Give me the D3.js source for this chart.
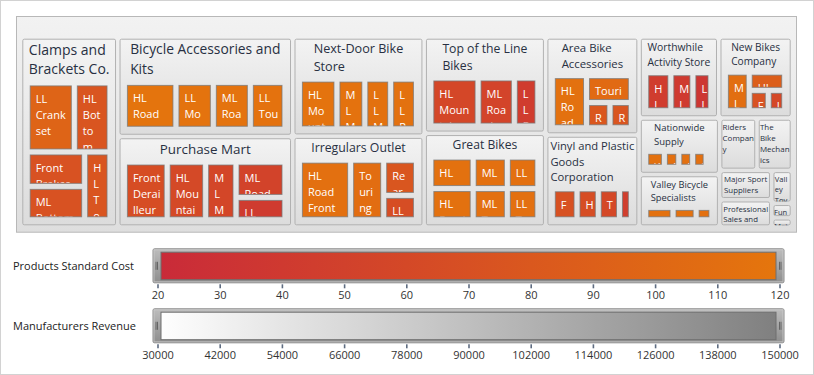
<!DOCTYPE html>
<html>
<head>
<meta charset="utf-8">
<script src="https://cdn.jsdelivr.net/npm/d3@7"></script>
<style>
  html, body { margin: 0; padding: 0; background: #fff; }
  svg { display: block; font-family: "Open Sans", sans-serif; }
</style>
</head>
<body>
<div id="chart"></div>
<script>
// manufacturers, largest first (tile size)
var manufacturers = [
  "Clamps and Brackets Co.", "Bicycle Accessories and Kits", "Purchase Mart",
  "Next-Door Bike Store", "Irregulars Outlet", "Top of the Line Bikes", "Great Bikes",
  "Area Bike Accessories", "Vinyl and Plastic Goods Corporation", "Worthwhile Activity Store",
  "New Bikes Company", "Nationwide Supply", "Valley Bicycle Specialists", "Riders Company",
  "The Bike Mechanics", "Major Sport Suppliers", "Professional Sales and Service",
  "Valley Toy Store", "Fun Toys and Bikes", "Metro Sports Equipment"
];
var manufacturerValues = [18392, 17333, 15765, 12972, 11886, 11647, 11332, 9116, 8555, 6424,
  5943, 4531, 4211, 1947, 1849, 1521, 1415, 679, 300, 190];

// products of each manufacturer (same order as above)
var productNames = [
  ["LL Crankset", "HL Bottom Bracket", "Front Brakes", "ML Bottom Bracket", "HL Touring Handlebars"],
  ["HL Road Front Wheel", "LL Mountain Front Wheel", "ML Road Front Wheel", "LL Touring Rear Wheel"],
  ["Front Derailleur", "HL Mountain Pedal", "ML Mountain Pedal", "ML Road Pedal", "LL Road Pedal"],
  ["HL Mountain Rear Wheel", "ML Mountain Rear Wheel", "LL Mountain Rear Wheel", "LL Road Rear Wheel"],
  ["HL Road Front Wheel", "Touring Front Wheel", "Rear Derailleur", "LL Road Seat"],
  ["HL Mountain Frame", "ML Road Frame", "LL Road Frame"],
  ["HL Mountain Seat", "HL Road Seat", "ML Road Seat", "ML Touring Seat", "LL Road Seat", "LL Touring Seat"],
  ["HL Road Handlebars", "Touring Pedal", "Road Bottle Cage", "Rear Brakes"],
  ["Fender Set - Mountain", "HL Headset", "Taillights - Battery", "LL Headset"],
  ["HL Touring Seat", "ML Touring Seat", "LL Touring Seat"],
  ["ML Crankset", "HL Crankset", "Front Derailleur", "LL Crankset"],
  ["Water Bottle", "Bike Wash", "Road Bottle Cage", "Mountain Bottle Cage", "Patch Kit"],
  ["Sport-100 Helmet", "Hydration Pack", "Cable Lock"],
  ["Mountain Pump", "Minipump"],
  ["Chain", "Hitch Rack"],
  ["Headlights - Dual-Beam"],
  ["Headlights - Weatherproof"],
  ["Taillights"],
  ["Bike Stand"],
  ["All-Purpose Bike Stand"]
];
var productValues = [
  [3300, 2500, 2006, 1948, 1746],
  [2366, 1717, 1700, 1592],
  [2478, 2228, 1760, 1740, 1100],
  [1802, 1338, 1241, 1236],
  [2993, 1931, 1131, 782],
  [2223, 1706, 1109],
  [1300, 1290, 1050, 1040, 940, 930],
  [1763, 1193, 585, 533],
  [732, 630, 627, 351],
  [947, 832, 683],
  [912, 641, 386, 332],
  [272, 210, 202, 196, 84],
  [324, 274, 187],
  [500, 400],
  [500, 400],
  [300],
  [300],
  [100],
  [100],
  [100]
];
var productCosts = [
  [96, 76, 72, 72, 76],
  [117, 116, 116, 115],
  [66, 61, 57, 53, 42],
  [116, 115, 114, 114],
  [112, 108, 78, 66],
  [58, 54, 44],
  [113, 113, 112, 112, 112, 112],
  [114, 104, 79, 76],
  [71, 66, 60, 46],
  [44, 41, 36],
  [110, 88, 72, 60],
  [113, 112, 112, 112, 100],
  [113, 113, 112],
  [90, 70],
  [80, 60],
  [60],
  [50],
  [80],
  [100],
  [90]
];

var costTicks = [20, 30, 40, 50, 60, 70, 80, 90, 100, 110, 120];
var revenueTicks = [30000, 42000, 54000, 66000, 78000, 90000, 102000, 114000, 126000, 138000, 150000];

var W = 814, H = 375;
var svg = d3.select("#chart").append("svg").attr("width", W).attr("height", H);
var defs = svg.append("defs");

function vgrad(id, c1, c2) {
  var gr = defs.append("linearGradient").attr("id", id).attr("x1", 0).attr("y1", 0).attr("x2", 0).attr("y2", 1);
  gr.append("stop").attr("offset", "0%").attr("stop-color", c1);
  gr.append("stop").attr("offset", "100%").attr("stop-color", c2);
}
vgrad("rootFill", "#f2f2f2", "#dedede");
vgrad("boxFill", "#f3f3f3", "#dcdcdc");
vgrad("frameFill", "#bdbdbd", "#8e8e8e");

svg.append("rect").attr("x", 0.5).attr("y", 0.5).attr("width", W - 1).attr("height", H - 1)
  .attr("fill", "#fff").attr("stroke", "#d2d2d2");

var costColor = d3.scaleLinear().domain([20, 120]).range(["#c92a39", "#e5760c"]);
var revColor = d3.scaleLinear().domain([30000, 150000]).range(["#ffffff", "#7f7f7f"]);
var fontScale = d3.scaleLinear().domain([20, 41, 61, 131]).range([7.5, 8.0, 9.3, 14]).clamp(true);

// text measuring
var ctx = document.createElement("canvas").getContext("2d");
function textWidth(s, fs) {
  ctx.font = fs + "px 'Open Sans'";
  return ctx.measureText(s).width;
}
function wrap(text, fs, maxW) {
  var words = text.split(" "), lines = [], cur = "";
  words.forEach(function (w) {
    var t = cur ? cur + " " + w : w;
    if (textWidth(t, fs) <= maxW) { cur = t; return; }
    if (cur) { lines.push(cur); cur = ""; }
    // break a long word by characters
    while (w.length > 1 && textWidth(w, fs) > maxW) {
      var k = 1;
      while (k < w.length && textWidth(w.slice(0, k + 1), fs) <= maxW) k++;
      lines.push(w.slice(0, k));
      w = w.slice(k);
    }
    cur = w;
  });
  if (cur) lines.push(cur);
  return lines;
}

/*
 * Treemap
 */
var g = svg.append("g").attr("transform", "translate(16,16)");

var rootData = {
  name: "",
  children: manufacturers.map(function (n, i) { return { name: n, index: i, value: manufacturerValues[i] }; })
};
var root = d3.hierarchy(rootData).sum(function (d) { return d.children ? 0 : d.value; });
d3.treemap()
  .tile(d3.treemapSquarify.ratio(1))
  .size([781, 216.7])
  .paddingInner(3.5)
  .paddingTop(22.7)
  .paddingLeft(6.3)
  .paddingRight(6.3)
  .paddingBottom(7.4)(root);

g.append("rect")
  .attr("x", root.x0 + 0.5).attr("y", root.y0 + 0.5)
  .attr("width", root.x1 - root.x0 - 1).attr("height", root.y1 - root.y0 - 1)
  .attr("fill", "url(#rootFill)").attr("stroke", "#b8b8b8");

var mfrs = root.leaves();

mfrs.forEach(function (d, i) {
  var w = d.x1 - d.x0, h = d.y1 - d.y0;
  var fs = fontScale(Math.sqrt(w * h));
  var lh = fs * 1.4;
  var lines = wrap(d.data.name, fs, w - Math.min(10, w * 0.06));
  var blockW = d3.max(lines, function (l) { return textWidth(l, fs); });

  var box = g.append("g");
  box.append("clipPath").attr("id", "mc" + i).append("rect")
    .attr("x", d.x0).attr("y", d.y0).attr("width", w).attr("height", h);

  box.append("rect")
    .attr("x", d.x0 + 0.5).attr("y", d.y0 + 0.5)
    .attr("width", Math.max(0, w - 1)).attr("height", Math.max(0, h - 1))
    .attr("rx", 1.5)
    .attr("fill", "url(#boxFill)").attr("stroke", "#b1b1b1");

  var tx = d.x0 + w / 2 - blockW / 2;
  var ty = d.y0 + 2.5 + (lh - fs) / 2 + 0.76 * fs;
  var shown = lines.filter(function (l, k) { return ty + k * lh - fs < d.y1; });
  box.append("text")
    .attr("clip-path", "url(#mc" + i + ")")
    .attr("font-size", fs).attr("fill", "#283042")
    .selectAll("tspan").data(shown).enter().append("tspan")
    .attr("x", tx).attr("y", function (l, k) { return ty + k * lh; })
    .text(function (l) { return l; });

  // products
  var cx0 = d.x0 + 7.4, cx1 = d.x1 - 8.5;
  var cy0 = d.y0 + 2.5 + lines.length * lh + 5, cy1 = d.y1 - 8;
  if (cx1 - cx0 < 3 || cy1 - cy0 < 3) return;

  var items = productNames[i].map(function (n, k) {
    return { name: n, value: productValues[i][k], cost: productCosts[i][k] };
  });
  var sub = d3.hierarchy({ children: items }).sum(function (p) { return p.children ? 0 : p.value; });
  d3.treemap()
    .tile(d3.treemapSquarify.ratio(1))
    .size([cx1 - cx0, cy1 - cy0])
    .paddingInner(5)(sub);

  sub.leaves().forEach(function (p, k) {
    var px = cx0 + p.x0, py = cy0 + p.y0, pw = p.x1 - p.x0, ph = p.y1 - p.y0;
    if (pw < 1 || ph < 1) return;
    var id = "pc" + i + "_" + k;
    var tile = box.append("g");
    tile.append("clipPath").attr("id", id).append("rect")
      .attr("x", px + 1).attr("y", py + 1).attr("width", Math.max(0, pw - 2)).attr("height", Math.max(0, ph - 2));
    tile.append("rect")
      .attr("x", px + 0.5).attr("y", py + 0.5)
      .attr("width", Math.max(0, pw - 1)).attr("height", Math.max(0, ph - 1))
      .attr("fill", costColor(p.data.cost))
      .attr("stroke", "rgba(120,120,120,0.75)");
    // keep only the lines that start inside the tile
    var plines = wrap(p.data.name, 11, pw - 10).filter(function (l, j) {
      return 17.3 + j * 16 - 11 < ph;
    });
    tile.append("text")
      .attr("clip-path", "url(#" + id + ")")
      .attr("font-size", 11).attr("fill", "#fff")
      .selectAll("tspan").data(plines).enter().append("tspan")
      .attr("x", px + 6).attr("y", function (l, j) { return py + 17.3 + j * 16; })
      .text(function (l) { return l; });
  });
});

/*
 * Legends
 */
var costX = d3.scaleLinear().domain([20, 120]).range([157.5, 779.5]);
var revX = d3.scaleLinear().domain([30000, 150000]).range([157.5, 779.5]);

function legendBar(y, label, scale, colorScale, ticks, gid) {
  var grad = defs.append("linearGradient").attr("id", gid)
    .attr("gradientUnits", "userSpaceOnUse")
    .attr("x1", scale.range()[0]).attr("x2", scale.range()[1]).attr("y1", 0).attr("y2", 0);
  d3.range(0, 1.0001, 0.1).forEach(function (t) {
    var v = scale.domain()[0] + t * (scale.domain()[1] - scale.domain()[0]);
    grad.append("stop").attr("offset", (t * 100) + "%").attr("stop-color", colorScale(v));
  });

  var x0 = scale.range()[0], x1 = scale.range()[1];
  svg.append("text")
    .attr("x", 13).attr("y", y + 21.5)
    .attr("font-size", 11).attr("fill", "#222")
    .text(label);

  svg.append("rect")
    .attr("x", x0 - 4.5).attr("y", y + 0.5)
    .attr("width", x1 - x0 + 9).attr("height", 34)
    .attr("rx", 1.5)
    .attr("fill", "url(#frameFill)").attr("stroke", "#8a8a8a");
  svg.append("rect")
    .attr("x", x0 - 3.5).attr("y", y + 1.5)
    .attr("width", x1 - x0 + 7).attr("height", 32)
    .attr("fill", "none").attr("stroke", "#d0d0d0").attr("stroke-opacity", 0.7);
  svg.append("rect")
    .attr("x", x0 + 3.5).attr("y", y + 3.9)
    .attr("width", x1 - x0 - 7).attr("height", 27.5)
    .attr("fill", "url(#" + gid + ")").attr("stroke", "#6f6f6f");

  // grips at both ends
  [x0 - 1.5, x0, x1, x1 + 1.5].forEach(function (gx) {
    svg.append("line")
      .attr("x1", gx).attr("x2", gx).attr("y1", y + 13.5).attr("y2", y + 21.5)
      .attr("stroke", "#555").attr("stroke-width", 0.8);
  });

  var axis = svg.append("g")
    .attr("transform", "translate(0," + (y + 36) + ")")
    .call(d3.axisBottom(scale).tickValues(ticks).tickSize(4).tickSizeOuter(0).tickFormat(d3.format("d")));
  axis.select(".domain").remove();
  axis.selectAll(".tick line").attr("stroke", "#5d6b80").attr("stroke-width", 1.6);
  axis.selectAll(".tick text")
    .attr("font-family", "'Open Sans', sans-serif")
    .attr("font-size", 11).attr("fill", "#333");
}

legendBar(248.3, "Products Standard Cost", costX, costColor, costTicks, "costGrad");
legendBar(308.3, "Manufacturers Revenue", revX, revColor, revenueTicks, "revGrad");
</script>
</body>
</html>
